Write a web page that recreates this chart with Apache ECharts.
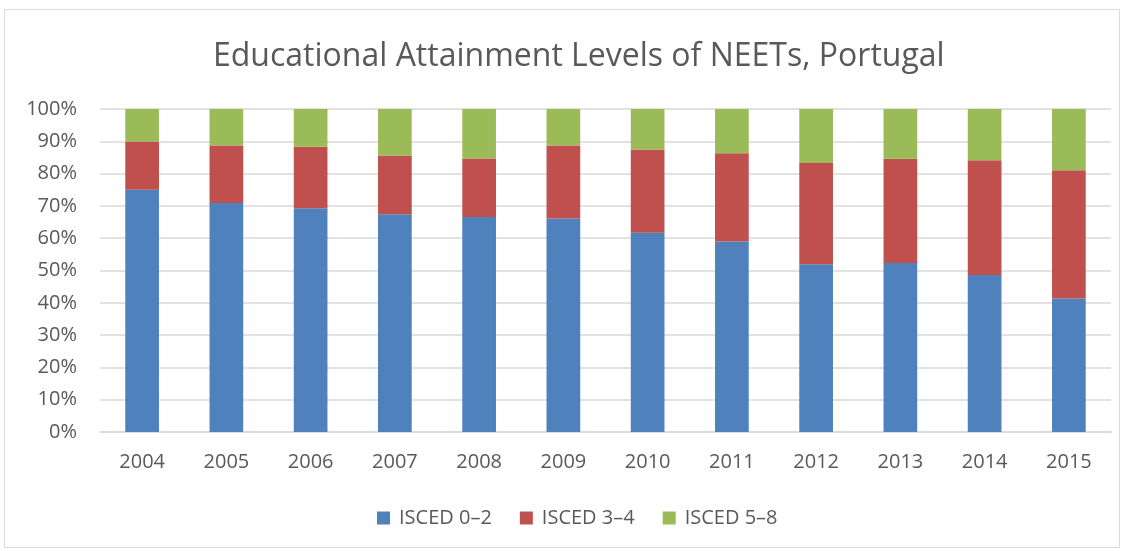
<!DOCTYPE html>
<html><head><meta charset="utf-8">
<script src="https://cdn.jsdelivr.net/npm/echarts@6/dist/echarts.min.js"></script>
<style>html,body{margin:0;padding:0;background:#fff}#c{width:1124px;height:551px}</style>
</head><body><div id="c"></div>
<script>
const years = ['2004','2005','2006','2007','2008','2009','2010','2011','2012','2013','2014','2015'];
const isced02 = [75.0,70.9,69.3,67.4,66.6,66.1,61.7,59.0,51.9,52.3,48.6,41.3];
const isced34 = [14.9,17.8,19.0,18.2,18.1,22.6,25.8,27.3,31.4,32.3,35.5,39.7];
const isced58 = [10.1,11.3,11.7,14.4,15.3,11.3,12.5,13.7,16.7,15.4,15.9,19.0];
const seriesNames = ['ISCED 0–2','ISCED 3–4','ISCED 5–8'];
const colors = ['#4f81bd','#c0504d','#9bbb59'];
const font = 'Open Sans';
const chart = echarts.init(document.getElementById('c'));
const mk = (name, data, i) => ({
  name, type:'bar', stack:'s', data, barWidth:'40%',
  itemStyle:{color:colors[i]}, emphasis:{disabled:true}
});
chart.setOption({
  animation:false,
  graphic:[{type:'rect',shape:{x:4.5,y:9.5,width:1115,height:538},style:{fill:'none',stroke:'#d9d9d9',lineWidth:1}}],
  title:{text:'Educational Attainment Levels of NEETs, Portugal',left:208,top:36,
    textStyle:{fontFamily:font,fontSize:32,fontWeight:'normal',color:'#595959'}},
  legend:{bottom:18,left:372,itemWidth:13,itemHeight:13,itemGap:28,icon:'rect',
    textStyle:{fontFamily:font,fontSize:20,color:'#595959',padding:[0,0,0,4]}},
  grid:{left:100,right:13,top:109,bottom:119,containLabel:false},
  xAxis:{type:'category',data:years,
    axisLine:{lineStyle:{color:'#d9d9d9',width:1.5}},axisTick:{show:false},
    axisLabel:{fontFamily:font,fontSize:20,color:'#595959',margin:20}},
  yAxis:{type:'value',min:0,max:100,interval:10,
    axisLabel:{formatter:'{value}%',fontFamily:font,fontSize:20,color:'#595959',margin:23},
    splitLine:{lineStyle:{color:'#d9d9d9',width:1.5}},axisLine:{show:false},axisTick:{show:false}},
  series:[mk(seriesNames[0],isced02,0),mk(seriesNames[1],isced34,1),mk(seriesNames[2],isced58,2)]
});
</script></body></html>
